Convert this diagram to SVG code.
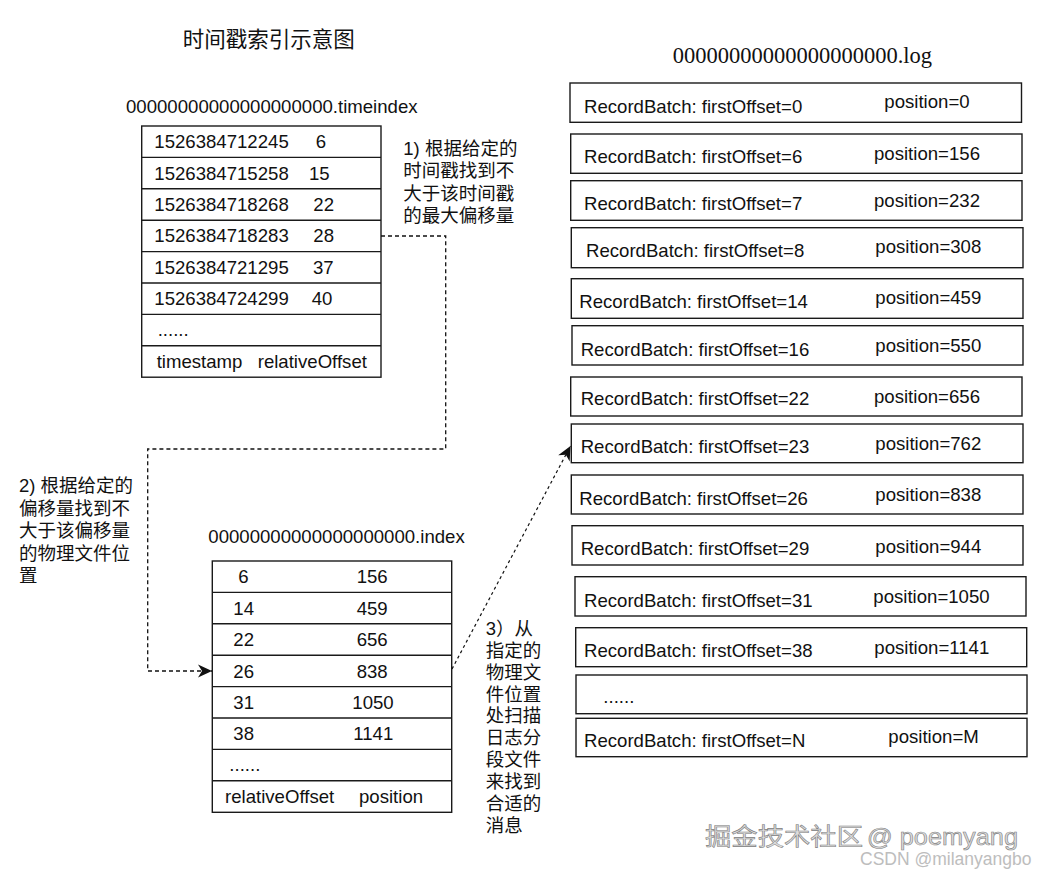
<svg xmlns="http://www.w3.org/2000/svg" width="1044" height="877" viewBox="0 0 1044 877">
<style>
  text { font-family: "Liberation Sans", "Noto Sans CJK SC", sans-serif; fill: #111; }
  .t { font-size: 18.6px; }
  .cjk { font-size: 18.5px; }
  .title { font-size: 21.5px; }
  .serif { font-family: "Liberation Serif", "Noto Sans CJK SC", serif; font-size: 22.5px; }
  .box { fill: #fff; stroke: #1a1a1a; stroke-width: 1.4; }
  .ln { stroke: #1a1a1a; stroke-width: 1.4; fill: none; }
  .dash { stroke: #111; stroke-width: 1.3; fill: none; stroke-dasharray: 4 3; }
  .dot { stroke: #111; stroke-width: 1.2; fill: none; stroke-dasharray: 3 3; }
  .wm { font-size: 24px; fill: #dcdcdc; stroke: #808080; stroke-width: 0.6; }
  .wm2 { font-size: 17.5px; fill: #bdbdbd; }
</style>
<defs>
  <marker id="arr" viewBox="-15 -8 16 16" refX="0" refY="0" markerWidth="16" markerHeight="16" markerUnits="userSpaceOnUse" orient="auto">
    <path d="M0,0 L-14,-6.5 L-10,0 L-14,6.5 Z" fill="#111" stroke="none"/>
  </marker>
</defs>
<rect x="0" y="0" width="1044" height="877" fill="#fff"/>

<g id="title">
  <text class="title" x="182.7" y="47">时间戳索引示意图</text>
</g>

<g id="timeindex">
  <text class="t" x="126" y="112.7">00000000000000000000.timeindex</text>
  <rect class="box" x="141.7" y="126" width="239.3" height="251.2"/>
  <path class="ln" d="M141.7,157.4H381M141.7,188.8H381M141.7,220.2H381M141.7,251.6H381M141.7,283H381M141.7,314.4H381M141.7,345.8H381"/>
  <text class="t" x="154.3" y="148.2">1526384712245</text><text class="t" x="315.7" y="148.2">6</text>
  <text class="t" x="154.3" y="179.6">1526384715258</text><text class="t" x="309" y="179.6">15</text>
  <text class="t" x="154.3" y="211">1526384718268</text><text class="t" x="313.3" y="211">22</text>
  <text class="t" x="154.3" y="242.4">1526384718283</text><text class="t" x="313.3" y="242.4">28</text>
  <text class="t" x="154.3" y="273.8">1526384721295</text><text class="t" x="313" y="273.8">37</text>
  <text class="t" x="154.3" y="305.2">1526384724299</text><text class="t" x="311.7" y="305.2">40</text>
  <text class="t" x="157.7" y="335.5">......</text>
  <text class="t" x="156.7" y="367.5">timestamp</text><text class="t" x="257.7" y="367.5">relativeOffset</text>
</g>

<g id="note1">
  <text class="cjk" x="403.3" y="154.5">1) 根据给定的</text>
  <text class="cjk" x="403.3" y="177">时间戳找到不</text>
  <text class="cjk" x="403.3" y="199.5">大于该时间戳</text>
  <text class="cjk" x="403.3" y="222">的最大偏移量</text>
</g>

<g id="note2">
  <text class="cjk" x="19" y="492">2) 根据给定的</text>
  <text class="cjk" x="19" y="514.5">偏移量找到不</text>
  <text class="cjk" x="19" y="537">大于该偏移量</text>
  <text class="cjk" x="19" y="559.5">的物理文件位</text>
  <text class="cjk" x="19" y="582">置</text>
</g>

<g id="index">
  <text class="t" x="208.3" y="543.3">00000000000000000000.index</text>
  <rect class="box" x="212.3" y="561" width="239.4" height="251.3"/>
  <path class="ln" d="M212.3,592.4H451.7M212.3,623.8H451.7M212.3,655.2H451.7M212.3,686.6H451.7M212.3,718H451.7M212.3,749.4H451.7M212.3,780.8H451.7"/>
  <text class="t" x="238.3" y="583.3">6</text><text class="t" x="356.7" y="583.3">156</text>
  <text class="t" x="233.3" y="614.7">14</text><text class="t" x="356.7" y="614.7">459</text>
  <text class="t" x="233.3" y="646.1">22</text><text class="t" x="356.7" y="646.1">656</text>
  <text class="t" x="233.3" y="677.5">26</text><text class="t" x="356.7" y="677.5">838</text>
  <text class="t" x="233.3" y="708.9">31</text><text class="t" x="352.3" y="708.9">1050</text>
  <text class="t" x="233.3" y="740.3">38</text><text class="t" x="353.3" y="740.3">1141</text>
  <text class="t" x="229.3" y="771">......</text>
  <text class="t" x="225" y="803">relativeOffset</text><text class="t" x="359" y="803">position</text>
</g>

<g id="note3">
  <text class="cjk" x="485.7" y="635">3）从</text>
  <text class="cjk" x="485.7" y="657">指定的</text>
  <text class="cjk" x="485.7" y="679">物理文</text>
  <text class="cjk" x="485.7" y="700.5">件位置</text>
  <text class="cjk" x="485.7" y="722">处扫描</text>
  <text class="cjk" x="485.7" y="744">日志分</text>
  <text class="cjk" x="485.7" y="766">段文件</text>
  <text class="cjk" x="485.7" y="788">来找到</text>
  <text class="cjk" x="485.7" y="810">合适的</text>
  <text class="cjk" x="485.7" y="832">消息</text>
</g>

<g id="log">
  <text class="serif" x="672.7" y="62.7">00000000000000000000.log</text>
  <g id="rb0"><rect class="box" x="570" y="83" width="451.5" height="39.3"/><text class="t" x="584" y="112.7">RecordBatch: firstOffset=0</text><text class="t" x="884.3" y="108.3">position=0</text></g>
  <g id="rb6"><rect class="box" x="570.7" y="134" width="451.3" height="39.3"/><text class="t" x="584" y="162.7">RecordBatch: firstOffset=6</text><text class="t" x="874" y="160">position=156</text></g>
  <g id="rb7"><rect class="box" x="570.7" y="180.7" width="451.3" height="39.6"/><text class="t" x="584" y="210">RecordBatch: firstOffset=7</text><text class="t" x="874" y="206.7">position=232</text></g>
  <g id="rb8"><rect class="box" x="571.3" y="227.7" width="451.7" height="40"/><text class="t" x="586" y="256.7">RecordBatch: firstOffset=8</text><text class="t" x="875.3" y="253.3">position=308</text></g>
  <g id="rb14"><rect class="box" x="571.3" y="278.7" width="451.7" height="39.6"/><text class="t" x="579.3" y="308.3">RecordBatch: firstOffset=14</text><text class="t" x="875.3" y="304">position=459</text></g>
  <g id="rb16"><rect class="box" x="572" y="325.7" width="451" height="39.3"/><text class="t" x="580.7" y="355.7">RecordBatch: firstOffset=16</text><text class="t" x="875.3" y="351.7">position=550</text></g>
  <g id="rb22"><rect class="box" x="570.7" y="377" width="451.3" height="39"/><text class="t" x="580.7" y="405">RecordBatch: firstOffset=22</text><text class="t" x="874" y="402.7">position=656</text></g>
  <g id="rb23"><rect class="box" x="571.3" y="424" width="451.7" height="38.7"/><text class="t" x="580.7" y="452.7">RecordBatch: firstOffset=23</text><text class="t" x="875.3" y="450">position=762</text></g>
  <g id="rb26"><rect class="box" x="571.3" y="475" width="451.7" height="39"/><text class="t" x="579.3" y="505">RecordBatch: firstOffset=26</text><text class="t" x="875.3" y="500.7">position=838</text></g>
  <g id="rb29"><rect class="box" x="572" y="525.7" width="451" height="39.3"/><text class="t" x="580.7" y="555">RecordBatch: firstOffset=29</text><text class="t" x="875.3" y="552.7">position=944</text></g>
  <g id="rb31"><rect class="box" x="575" y="576.7" width="451" height="39.3"/><text class="t" x="584" y="606.7">RecordBatch: firstOffset=31</text><text class="t" x="873.3" y="602.7">position=1050</text></g>
  <g id="rb38"><rect class="box" x="575.7" y="627.7" width="451" height="39"/><text class="t" x="584" y="656.7">RecordBatch: firstOffset=38</text><text class="t" x="874.3" y="654.3">position=1141</text></g>
  <g id="rbdots"><rect class="box" x="576" y="675" width="451" height="38.7"/><text class="t" x="603.3" y="703.3">......</text></g>
  <g id="rbN"><rect class="box" x="576" y="718.3" width="451" height="38.4"/><text class="t" x="584" y="747.3">RecordBatch: firstOffset=N</text><text class="t" x="888.3" y="743.3">position=M</text></g>
</g>

<g id="connectors">
  <path class="dash" d="M381,236 H445.7 V449 H147.7 V671 H212" marker-end="url(#arr)"/>
  <path class="dot" d="M452,669 L570.5,446" marker-end="url(#arr)"/>
</g>

<g id="watermark">
  <text class="wm" x="705" y="845" textLength="158" lengthAdjust="spacingAndGlyphs">掘金技术社区</text>
  <text class="wm" x="867" y="845" textLength="151" lengthAdjust="spacingAndGlyphs">@ poemyang</text>
  <text class="wm2" x="860" y="865">CSDN @milanyangbo</text>
</g>
</svg>
